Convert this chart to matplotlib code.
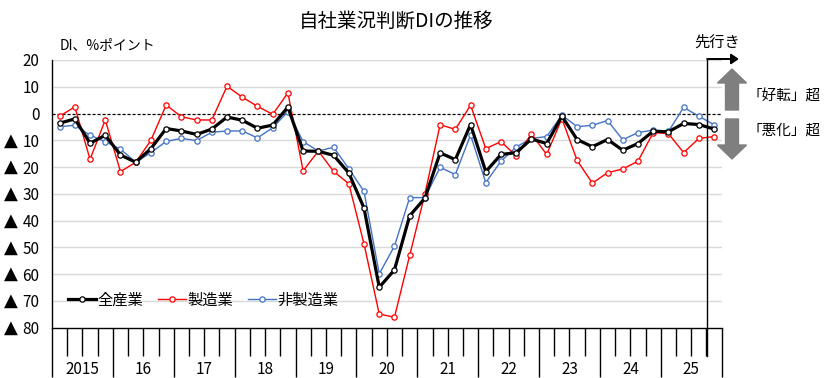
import matplotlib
matplotlib.use("Agg")
import matplotlib.pyplot as plt
from matplotlib.patches import FancyArrow
from matplotlib.transforms import blended_transform_factory
import numpy as np

plt.rcParams["font.family"] = ["Noto Sans CJK JP", "DejaVu Sans"]

W, H = 829, 378

# quarterly DI, 2015Q1 .. 2025Q4 (last point = outlook)
years = ["2015", "16", "17", "18", "19", "20", "21", "22", "23", "24", "25"]
all_ind = [-3.6, -2.0, -11.1, -8.1, -15.5, -18.2, -13.1, -5.6, -6.5, -7.8, -5.8,
           -1.3, -2.5, -5.5, -4.3, 2.4, -14.0, -14.1, -15.6, -22.2, -35.3, -64.9,
           -58.4, -38.2, -31.6, -14.7, -17.2, -4.1, -21.7, -15.3, -14.6, -9.5,
           -11.2, -1.0, -9.7, -12.4, -9.7, -13.7, -11.2, -6.6, -6.8, -3.7, -4.1, -5.8]
manuf = [-1.0, 2.5, -17.1, -2.4, -21.7, -18.2, -10.0, 3.2, -1.2, -2.4, -2.4,
         10.2, 6.1, 2.7, -0.3, 7.7, -21.4, -14.0, -21.6, -26.2, -48.7, -74.9,
         -76.1, -53.0, -30.0, -4.2, -5.9, 3.1, -13.1, -10.5, -15.8, -7.6,
         -15.3, -1.9, -17.5, -26.0, -22.1, -20.7, -17.8, -7.1, -7.5, -14.6, -9.3, -8.6]
nonmanuf = [-4.9, -4.4, -8.1, -10.5, -13.3, -18.2, -14.6, -10.4, -9.3, -10.1, -7.0,
            -6.5, -6.5, -9.1, -5.3, 0.7, -10.5, -14.0, -12.6, -20.6, -29.1, -59.9,
            -49.5, -31.4, -31.4, -20.1, -22.8, -8.0, -25.8, -17.8, -12.5, -9.3,
            -8.6, -0.6, -4.9, -4.4, -2.6, -9.8, -7.1, -6.2, -6.7, 2.3, -1.0, -4.2]

BLUE = "#4472C4"


def px(x, y):
    return x / W, 1 - y / H


fig = plt.figure(figsize=(W / 100, H / 100), dpi=100)
l, b = px(52, 327.7)
r, t = px(721.7, 60)
ax = fig.add_axes([l, b, r - l, t - b])

n = len(all_ind)
x = np.arange(n) + 0.5
ax.set_xlim(0, n)
ax.set_ylim(-80, 20)

for v in range(-70, 30, 10):
    if v != 0:
        ax.axhline(v, color="#d9d9d9", lw=1, zorder=0)
ax.axhline(0, color="black", lw=0.9, ls=(0, (2.5, 1.5)), zorder=1)

ax.plot(x, all_ind, color="black", lw=2.3, marker="o", ms=3.8, mfc="white",
        mec="black", mew=0.9, label="全産業", zorder=5)
ax.plot(x, manuf, color="#ff0000", lw=1.0, marker="o", ms=3.8, mfc="white",
        mec="#ff0000", mew=0.9, label="製造業", zorder=4)
ax.plot(x, nonmanuf, color=BLUE, lw=1.0, marker="o", ms=3.8, mfc="white",
        mec=BLUE, mew=0.9, label="非製造業", zorder=3)

for s in ("top", "right"):
    ax.spines[s].set_visible(False)
ax.spines["left"].set_linewidth(1)
ax.spines["bottom"].set_linewidth(1)

# y axis: numbers right-aligned, ▲ marks negatives further left
yt = list(range(-80, 30, 10))
ax.set_yticks(yt)
ax.set_yticklabels([str(abs(v)) for v in yt], fontsize=11)
ax.tick_params(axis="y", length=0, pad=9)
tri_tf = blended_transform_factory(fig.transFigure, ax.transData)
for v in yt:
    if v < 0:
        ax.text(10.5 / W, v, "▲", transform=tri_tf, ha="center",
                va="center", fontsize=13, family="DejaVu Sans")

# x axis: year boundaries long, quarter boundaries short
ax.set_xticks(np.arange(0, n + 1, 4))
ax.set_xticks([q for q in range(n) if q % 4], minor=True)
ax.tick_params(axis="x", which="major", length=35, width=1, direction="out",
               labelbottom=False)
ax.tick_params(axis="x", which="minor", length=20, width=1, direction="out")
yr_tf = blended_transform_factory(ax.transData, fig.transFigure)
for i, yr in enumerate(years):
    ax.text(4 * i + 2, px(0, 369)[1], yr, transform=yr_tf,
            ha="center", va="center", fontsize=11)

ax.legend(ncol=3, frameon=False, fontsize=11, loc="center left",
          bbox_to_anchor=(px(62, 300)[0], px(0, 300)[1]),
          bbox_transform=fig.transFigure, handlelength=1.8, handletextpad=0.1,
          columnspacing=1.0, borderaxespad=0)

# outlook marker
fig.add_artist(plt.Line2D([706.7 / W] * 2, [px(0, 356)[1], px(0, 59)[1]],
                          color="black", lw=1))
fig.add_artist(FancyArrow(706.7 / W, px(0, 59)[1], 24 / W, 0, width=0.0001,
                          head_width=0.025, head_length=7 / W, color="black",
                          length_includes_head=False, transform=fig.transFigure))
fig.text(*px(717, 42), "先行き", ha="center", va="center", fontsize=11)

# good / bad arrows
fig.add_artist(FancyArrow(732 / W, px(0, 110)[1], 0, 41 / H, width=13 / W,
                          head_width=29 / W, head_length=14 / H, color="#7f7f7f",
                          length_includes_head=True, transform=fig.transFigure))
fig.add_artist(FancyArrow(732 / W, px(0, 119)[1], 0, -40 / H, width=13 / W,
                          head_width=29 / W, head_length=14 / H, color="#7f7f7f",
                          length_includes_head=True, transform=fig.transFigure))
fig.text(*px(748, 97), "「好転」超", ha="left", va="center", fontsize=10.5)
fig.text(*px(748, 131), "「悪化」超", ha="left", va="center", fontsize=10.5)

fig.text(*px(60, 46), "DI、%ポイント", ha="left", va="center", fontsize=10)
fig.text(*px(396, 21), "自社業況判断DIの推移", ha="center", va="center", fontsize=14)

fig.savefig("out.png", dpi=100)
